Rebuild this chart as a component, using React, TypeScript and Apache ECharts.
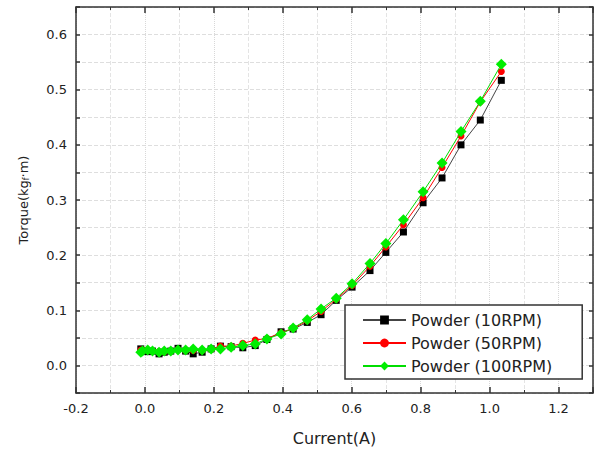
import React, { useEffect, useRef } from "react";
import * as echarts from "echarts";

const currentX = [-0.012, -0.007, 0.008, 0.022, 0.041, 0.056, 0.075, 0.096, 0.118, 0.14, 0.166, 0.192, 0.219, 0.25, 0.284, 0.32, 0.354, 0.395, 0.43, 0.471, 0.511, 0.555, 0.601, 0.653, 0.699, 0.75, 0.807, 0.862, 0.917, 0.973, 1.034];
const torque10 = [0.030, 0.027, 0.025, 0.026, 0.021, 0.024, 0.026, 0.031, 0.026, 0.021, 0.024, 0.030, 0.035, 0.034, 0.032, 0.036, 0.047, 0.061, 0.066, 0.078, 0.092, 0.118, 0.142, 0.172, 0.205, 0.242, 0.295, 0.340, 0.400, 0.445, 0.517];
const torque50 = [0.028, 0.028, 0.027, 0.026, 0.025, 0.025, 0.026, 0.029, 0.027, 0.027, 0.027, 0.029, 0.035, 0.035, 0.040, 0.046, 0.049, 0.059, 0.067, 0.081, 0.098, 0.120, 0.145, 0.180, 0.215, 0.255, 0.304, 0.359, 0.416, 0.478, 0.533];
const torque100 = [0.024, 0.026, 0.028, 0.026, 0.024, 0.026, 0.026, 0.028, 0.028, 0.030, 0.028, 0.030, 0.030, 0.033, 0.036, 0.039, 0.048, 0.057, 0.068, 0.083, 0.1025, 0.122, 0.148, 0.185, 0.221, 0.264, 0.315, 0.367, 0.424, 0.479, 0.546];
const seriesNames = ["Powder (10RPM)", "Powder (50RPM)", "Powder (100RPM)"];

const FONT = "DejaVu Sans";
const AX = "#333";

export default function App() {
  const ref = useRef<HTMLDivElement>(null);
  useEffect(() => {
    if (!ref.current) return;
    const chart = echarts.init(ref.current, undefined, { renderer: "svg" });
    const pair = (ys: number[]) => currentX.map((x, i) => [x, ys[i]]);
    const lineCommon = { show: true, onZero: false, lineStyle: { color: AX, width: 1.5 } };
    const xFmt = (v: number) => {
      const k = Math.round(v * 10);
      if (Math.abs(v * 10 - k) > 1e-6 || k % 2 !== 0) return "";
      return (k / 10).toFixed(1);
    };
    const yFmt = (v: number) => {
      const k = Math.round(v * 20);
      if (Math.abs(v * 20 - k) > 1e-6 || k % 2 !== 0) return "";
      return (k / 20).toFixed(1);
    };
    const xBase = {
      type: "value", min: -0.2, max: 1.3, interval: 0.2,
      axisLine: lineCommon,
      axisTick: { show: true, inside: true, length: 6, lineStyle: { color: AX, width: 1.5 } },
      minorTick: { show: true, splitNumber: 2, length: 3, lineStyle: { color: AX, width: 1 } },
    };
    const yBase = {
      type: "value", min: -0.05, max: 0.65, interval: 0.05,
      axisLine: lineCommon,
      axisTick: { show: true, inside: true, length: 4, lineStyle: { color: AX, width: 1.5 } },
    };
    chart.setOption({
      animation: false,
      backgroundColor: "#fff",
      grid: { left: 76, top: 7, right: 4, bottom: 61, containLabel: false },
      xAxis: [
        {
          ...xBase, position: "bottom",
          axisLabel: { fontFamily: FONT, fontSize: 13, color: "#222", margin: 9, formatter: xFmt },
          splitLine: { show: true, lineStyle: { color: "#d8d8d8", type: "dotted", width: 1 } },
          minorSplitLine: { show: true, lineStyle: { color: "#e4e4e4", type: "dashed", width: 1 } },
          name: "Current(A)", nameLocation: "middle", nameGap: 37,
          nameTextStyle: { fontFamily: FONT, fontSize: 16, color: "#222" },
        },
        {
          ...xBase, position: "top",
          axisLabel: { show: false }, splitLine: { show: false },
        },
      ],
      yAxis: [
        {
          ...yBase, position: "left",
          axisLabel: { fontFamily: FONT, fontSize: 13, color: "#222", margin: 9, formatter: yFmt },
          splitLine: { show: true, lineStyle: { color: "#dedede", type: "dashed", width: 1 } },
          name: "Torque(kg{s|f}·m)", nameLocation: "middle", nameGap: 46, nameRotate: 90,
          nameTextStyle: { fontFamily: FONT, fontSize: 13, color: "#222", rich: { s: { fontFamily: FONT, fontSize: 8, color: "#222", verticalAlign: "bottom", padding: [6, 0, 0, 0] } } },
        },
        {
          ...yBase, position: "right",
          axisLabel: { show: false }, splitLine: { show: false },
        },
      ],
      legend: {
        show: true, orient: "vertical", left: 345, top: 305,
        itemWidth: 43, itemHeight: 11, itemGap: 7,
        padding: [7, 30, 5, 17],
        backgroundColor: "#fff", borderColor: "#333", borderWidth: 1.5, borderRadius: 0,
        textStyle: { fontFamily: FONT, fontSize: 16, color: "#222", lineHeight: 16 },
        data: seriesNames,
      },
      series: [
        { name: seriesNames[0], type: "line", data: pair(torque10), symbol: "rect", symbolSize: 7,
          itemStyle: { color: "#000" }, lineStyle: { color: "#444", width: 1 }, z: 2 },
        { name: seriesNames[1], type: "line", data: pair(torque50), symbol: "circle", symbolSize: 7,
          itemStyle: { color: "#ff0000" }, lineStyle: { color: "#ff0000", width: 1 }, z: 3 },
        { name: seriesNames[2], type: "line", data: pair(torque100), symbol: "diamond", symbolSize: 11,
          itemStyle: { color: "#00ee00" }, lineStyle: { color: "#00dd00", width: 1 }, z: 4 },
      ],
    });
    return () => chart.dispose();
  }, []);
  return <div ref={ref} style={{ width: 597, height: 454, position: "absolute", left: 0, top: 0 }} />;
}
